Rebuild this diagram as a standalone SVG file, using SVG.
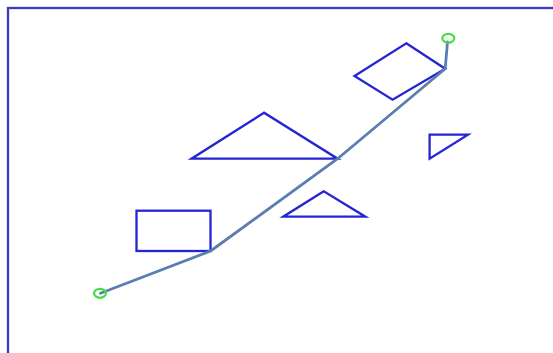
<svg xmlns="http://www.w3.org/2000/svg" width="553" height="353" viewBox="0 0 553 353">
<style>
.shape{fill:none;stroke:#2424d4;stroke-width:2.3;stroke-linejoin:miter}
.frame{fill:none;stroke:#3a3ac4;stroke-width:2.3}
.conn{fill:none;stroke:#5a7eb2;stroke-width:2.8;stroke-linejoin:round;stroke-linecap:round}
.end{fill:none;stroke:#44dd44;stroke-width:2.2}
</style>
<rect width="553" height="353" fill="#ffffff"/>
<rect class="frame" x="8" y="8" width="560" height="360"/>
<g id="rect1"><rect class="shape" x="136.5" y="210.7" width="74" height="40.3"/></g>
<g id="tri-big"><polygon class="shape" points="264,112.7 191.5,158.7 337.6,158.7"/></g>
<g id="tri-small"><polygon class="shape" points="323.8,191.3 283.2,216.7 365.4,216.7"/></g>
<g id="diamond"><polygon class="shape" points="406.3,43.3 445.2,68.7 392.6,99.7 354.5,76"/></g>
<g id="tri-right"><polygon class="shape" points="429.6,134.7 468,134.7 429.6,158.7"/></g>
<g id="connectors">
<polyline class="conn" points="100.5,293.3 210.6,251 337.6,158.7 445.2,68.7 447.5,42"/>
<ellipse class="end" cx="100" cy="293.3" rx="6" ry="4.5"/>
<ellipse class="end" cx="448.3" cy="38.3" rx="6" ry="4.5"/>
</g>
</svg>
